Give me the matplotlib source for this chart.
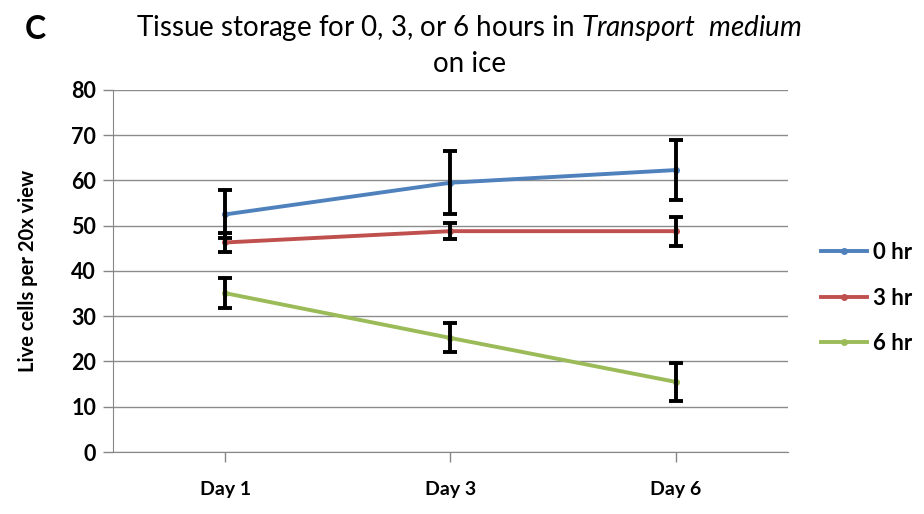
import numpy as np
import matplotlib
matplotlib.use("Agg")
import matplotlib.pyplot as plt

plt.rcParams['font.family'] = ['Lato', 'DejaVu Sans']
plt.rcParams['mathtext.fontset'] = 'custom'
plt.rcParams['mathtext.rm'] = 'Lato'
plt.rcParams['mathtext.it'] = 'Lato:italic'

days = ['Day 1', 'Day 3', 'Day 6']
series_names = ['0 hr', '3 hr', '6 hr']
live_0hr = [52.5, 59.5, 62.3]
err_0hr = [5.3, 7.0, 6.7]
live_3hr = [46.3, 48.8, 48.8]
err_3hr = [2.0, 1.8, 3.2]
live_6hr = [35.1, 25.2, 15.5]
err_6hr = [3.3, 3.2, 4.2]
colors = ['#4F81BD', '#C0504D', '#9BBB59']

fig = plt.figure(figsize=(9.24, 5.14), dpi=100)
ax = fig.add_axes([0.122, 0.1206, 0.731, 0.7044])

x = np.arange(len(days))
for vals, errs, name, c in zip([live_0hr, live_3hr, live_6hr],
                               [err_0hr, err_3hr, err_6hr],
                               series_names, colors):
    ax.plot(x, vals, color=c, lw=2.8, marker='o', ms=4, label=name, zorder=3)
    ax.errorbar(x, vals, yerr=errs, fmt='none', ecolor='black',
                elinewidth=2.8, capsize=5, capthick=2.8, zorder=4)

ax.set_xlim(-0.5, 2.5)
ax.set_ylim(0, 80)
ax.set_yticks(np.arange(0, 81, 10))
ax.set_xticks(x)
ax.set_xticklabels(days, fontsize=14, fontweight='bold')
ax.tick_params(axis='y', labelsize=15.5, length=7, color='#868686', width=1, pad=5)
ax.tick_params(axis='x', length=7, color='#868686', width=1, pad=14)
for lab in ax.get_yticklabels():
    lab.set_fontweight('bold')
ax.yaxis.grid(True, color='#8c8c8c', lw=1)
ax.set_axisbelow(True)
for side in ['top', 'right']:
    ax.spines[side].set_visible(False)
for side in ['left', 'bottom']:
    ax.spines[side].set_color('#868686')
ax.set_ylabel('Live cells per 20x view', fontsize=14.5, fontweight='bold', labelpad=24)

fig.text(0.508, 0.945, 'Tissue storage for 0, 3, or 6 hours in $\\it{Transport\\ \\ medium}$',
         ha='center', va='center', fontsize=20)
fig.text(0.508, 0.876, 'on ice', ha='center', va='center', fontsize=20)
fig.text(0.038, 0.943, 'C', ha='center', va='center', fontsize=23, fontweight='bold')

fig.legend(loc='center left', bbox_to_anchor=(0.888, 0.42), frameon=False,
           prop={'size': 16, 'weight': 'bold'}, handlelength=2.1,
           handletextpad=0.25, labelspacing=1.1, borderpad=0, borderaxespad=0)

fig.savefig('out.png', dpi=100)
